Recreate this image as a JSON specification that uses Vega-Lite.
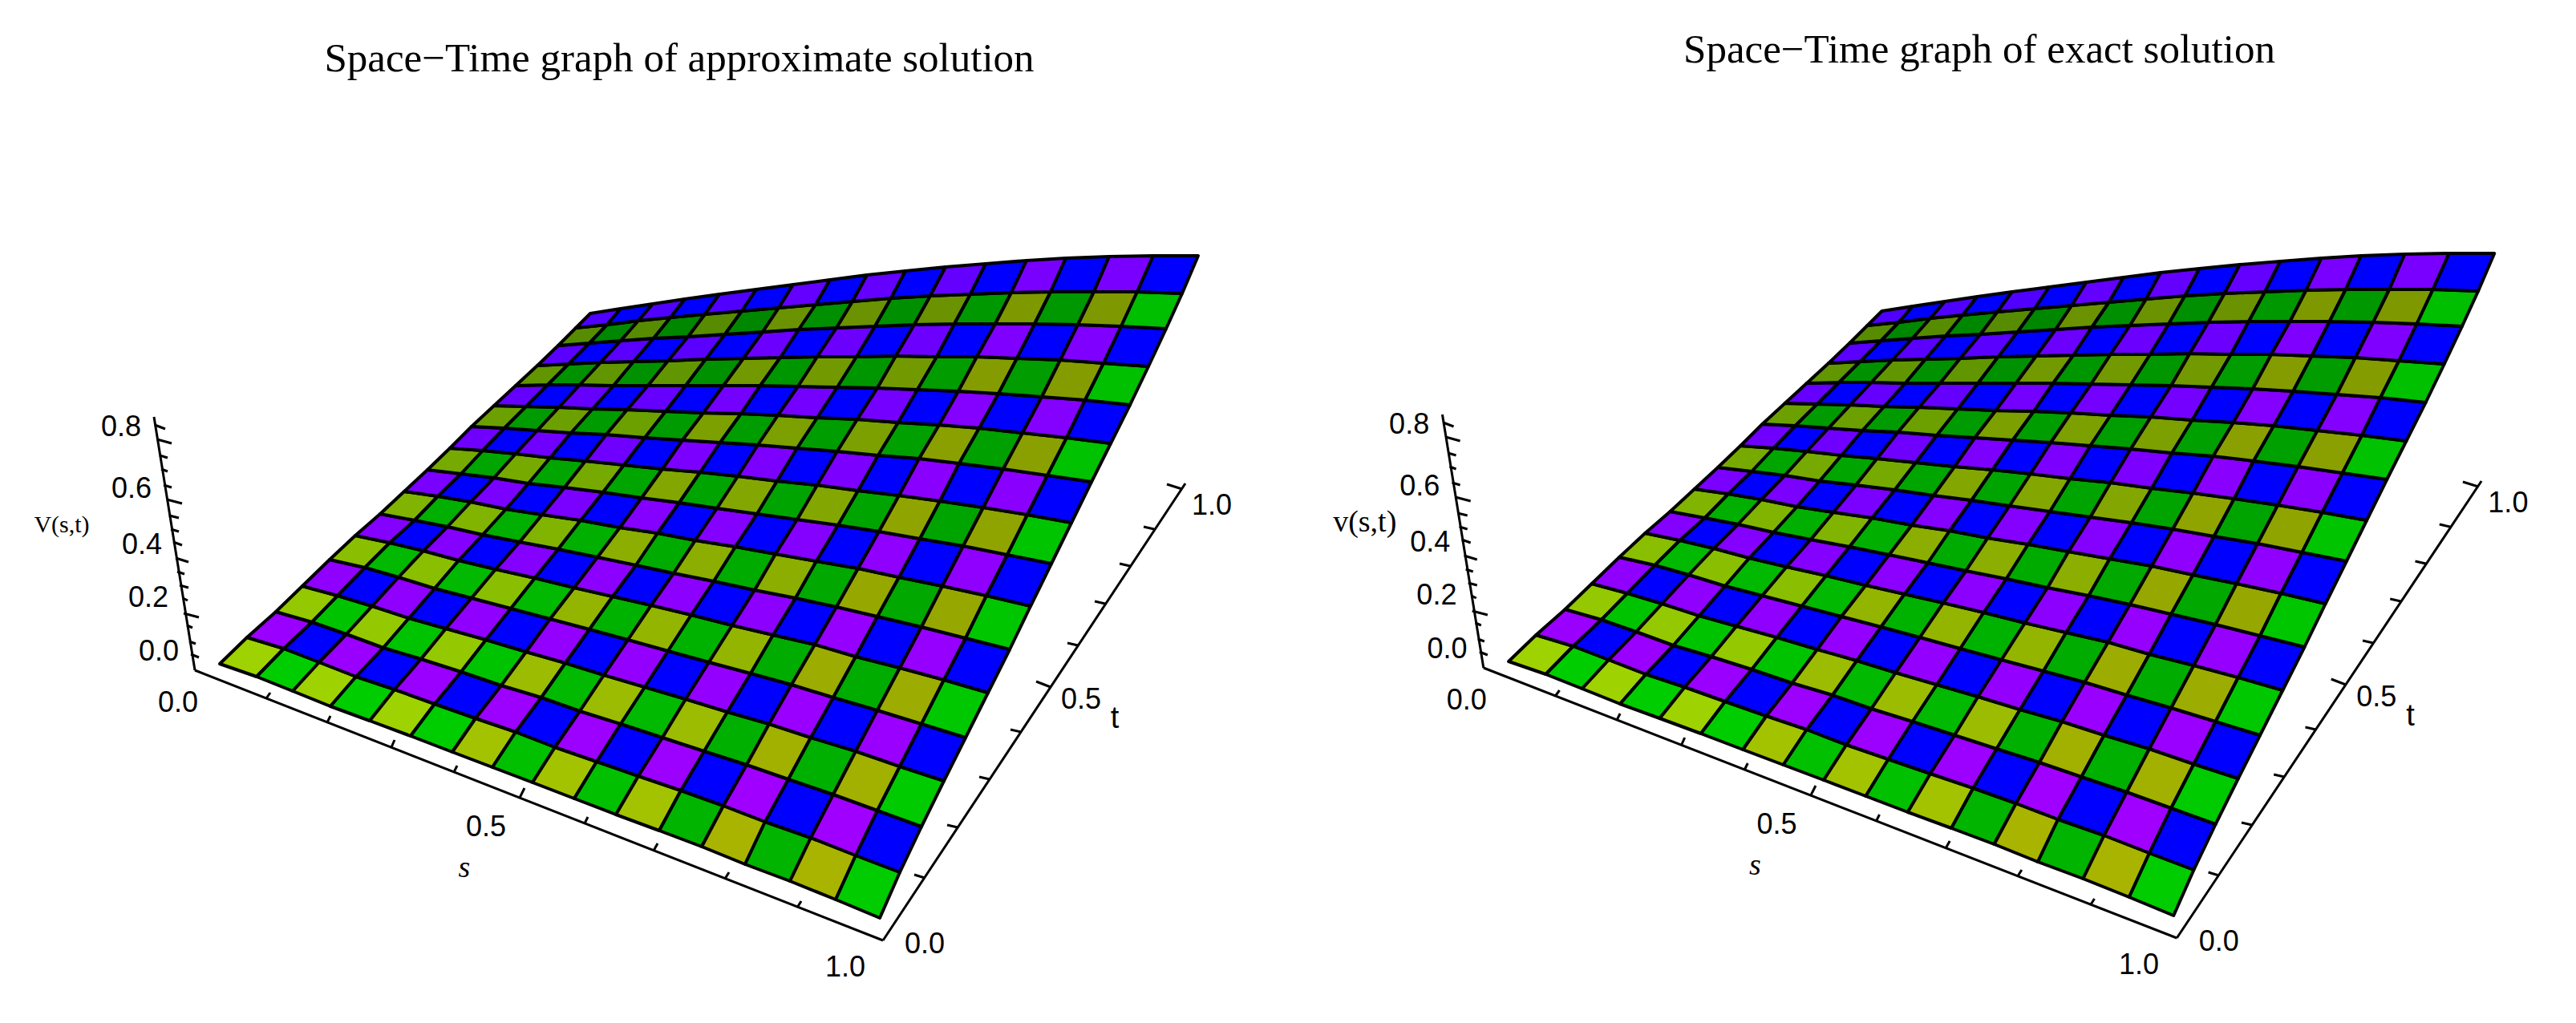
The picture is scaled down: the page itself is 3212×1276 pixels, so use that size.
{"$schema":"https://vega.github.io/schema/vega-lite/v6.json","padding":0,"spacing":0,"background":"white","config":{"view":{"stroke":null}},
"datasets":{
"verts":[
{"v":0,"x":274,"y":828},{"v":1,"x":320,"y":844},{"v":2,"x":365,"y":862},{"v":3,"x":412,"y":881},{"v":4,"x":461,"y":899},{"v":5,"x":512,"y":918},{"v":6,"x":564,"y":938},{"v":7,"x":614,"y":957},{"v":8,"x":664,"y":976},{"v":9,"x":716,"y":996},{"v":10,"x":768,"y":1016},{"v":11,"x":822,"y":1036},{"v":12,"x":875,"y":1056},{"v":13,"x":929,"y":1078},{"v":14,"x":985,"y":1099},{"v":15,"x":1042,"y":1122},{"v":16,"x":1097,"y":1145},
{"v":17,"x":308,"y":795},{"v":18,"x":354,"y":809},{"v":19,"x":398,"y":826},{"v":20,"x":444,"y":844},{"v":21,"x":492,"y":860},{"v":22,"x":542,"y":878},{"v":23,"x":593,"y":896},{"v":24,"x":643,"y":913},{"v":25,"x":692,"y":932},{"v":26,"x":744,"y":950},{"v":27,"x":796,"y":968},{"v":28,"x":849,"y":986},{"v":29,"x":902,"y":1005},{"v":30,"x":954,"y":1025},{"v":31,"x":1011,"y":1045},{"v":32,"x":1067,"y":1067},{"v":33,"x":1122,"y":1088},
{"v":34,"x":344,"y":763},{"v":35,"x":389,"y":776},{"v":36,"x":432,"y":791},{"v":37,"x":478,"y":808},{"v":38,"x":525,"y":822},{"v":39,"x":575,"y":838},{"v":40,"x":625,"y":855},{"v":41,"x":675,"y":870},{"v":42,"x":723,"y":887},{"v":43,"x":774,"y":903},{"v":44,"x":826,"y":920},{"v":45,"x":878,"y":937},{"v":46,"x":931,"y":954},{"v":47,"x":983,"y":972},{"v":48,"x":1039,"y":991},{"v":49,"x":1094,"y":1011},{"v":50,"x":1149,"y":1031},
{"v":51,"x":377,"y":731},{"v":52,"x":421,"y":743},{"v":53,"x":464,"y":756},{"v":54,"x":510,"y":771},{"v":55,"x":556,"y":784},{"v":56,"x":606,"y":798},{"v":57,"x":656,"y":813},{"v":58,"x":705,"y":827},{"v":59,"x":753,"y":842},{"v":60,"x":804,"y":857},{"v":61,"x":855,"y":872},{"v":62,"x":907,"y":888},{"v":63,"x":959,"y":903},{"v":64,"x":1011,"y":920},{"v":65,"x":1067,"y":937},{"v":66,"x":1122,"y":956},{"v":67,"x":1177,"y":974},
{"v":68,"x":411,"y":698},{"v":69,"x":455,"y":708},{"v":70,"x":497,"y":720},{"v":71,"x":542,"y":734},{"v":72,"x":588,"y":746},{"v":73,"x":637,"y":759},{"v":74,"x":686,"y":772},{"v":75,"x":735,"y":785},{"v":76,"x":783,"y":798},{"v":77,"x":833,"y":812},{"v":78,"x":884,"y":826},{"v":79,"x":936,"y":840},{"v":80,"x":987,"y":854},{"v":81,"x":1039,"y":870},{"v":82,"x":1094,"y":886},{"v":83,"x":1149,"y":903},{"v":84,"x":1204,"y":920},
{"v":85,"x":443,"y":668},{"v":86,"x":486,"y":677},{"v":87,"x":528,"y":687},{"v":88,"x":572,"y":699},{"v":89,"x":618,"y":710},{"v":90,"x":667,"y":721},{"v":91,"x":716,"y":733},{"v":92,"x":764,"y":744},{"v":93,"x":812,"y":755},{"v":94,"x":862,"y":767},{"v":95,"x":913,"y":780},{"v":96,"x":964,"y":792},{"v":97,"x":1016,"y":804},{"v":98,"x":1067,"y":819},{"v":99,"x":1122,"y":833},{"v":100,"x":1177,"y":848},{"v":101,"x":1232,"y":864},
{"v":102,"x":474,"y":641},{"v":103,"x":517,"y":649},{"v":104,"x":558,"y":657},{"v":105,"x":602,"y":667},{"v":106,"x":648,"y":676},{"v":107,"x":696,"y":685},{"v":108,"x":745,"y":695},{"v":109,"x":793,"y":705},{"v":110,"x":840,"y":715},{"v":111,"x":890,"y":725},{"v":112,"x":941,"y":736},{"v":113,"x":992,"y":746},{"v":114,"x":1043,"y":757},{"v":115,"x":1094,"y":769},{"v":116,"x":1149,"y":782},{"v":117,"x":1204,"y":796},{"v":118,"x":1259,"y":810},
{"v":119,"x":504,"y":613},{"v":120,"x":546,"y":619},{"v":121,"x":587,"y":626},{"v":122,"x":631,"y":635},{"v":123,"x":676,"y":642},{"v":124,"x":724,"y":649},{"v":125,"x":773,"y":658},{"v":126,"x":820,"y":665},{"v":127,"x":867,"y":674},{"v":128,"x":917,"y":682},{"v":129,"x":967,"y":691},{"v":130,"x":1018,"y":700},{"v":131,"x":1070,"y":709},{"v":132,"x":1121,"y":720},{"v":133,"x":1175,"y":731},{"v":134,"x":1230,"y":743},{"v":135,"x":1285,"y":756},
{"v":136,"x":533,"y":586},{"v":137,"x":575,"y":591},{"v":138,"x":616,"y":596},{"v":139,"x":659,"y":603},{"v":140,"x":704,"y":608},{"v":141,"x":752,"y":614},{"v":142,"x":800,"y":621},{"v":143,"x":847,"y":627},{"v":144,"x":894,"y":634},{"v":145,"x":944,"y":641},{"v":146,"x":994,"y":648},{"v":147,"x":1045,"y":655},{"v":148,"x":1096,"y":663},{"v":149,"x":1147,"y":672},{"v":150,"x":1201,"y":681},{"v":151,"x":1256,"y":692},{"v":152,"x":1311,"y":703},
{"v":153,"x":561,"y":559},{"v":154,"x":602,"y":562},{"v":155,"x":643,"y":566},{"v":156,"x":686,"y":571},{"v":157,"x":730,"y":575},{"v":158,"x":778,"y":580},{"v":159,"x":826,"y":585},{"v":160,"x":873,"y":589},{"v":161,"x":920,"y":594},{"v":162,"x":969,"y":600},{"v":163,"x":1019,"y":605},{"v":164,"x":1070,"y":612},{"v":165,"x":1121,"y":618},{"v":166,"x":1172,"y":625},{"v":167,"x":1226,"y":633},{"v":168,"x":1281,"y":642},{"v":169,"x":1336,"y":652},
{"v":170,"x":588,"y":532},{"v":171,"x":629,"y":534},{"v":172,"x":670,"y":537},{"v":173,"x":712,"y":540},{"v":174,"x":756,"y":542},{"v":175,"x":804,"y":546},{"v":176,"x":851,"y":549},{"v":177,"x":898,"y":552},{"v":178,"x":945,"y":555},{"v":179,"x":994,"y":559},{"v":180,"x":1044,"y":563},{"v":181,"x":1095,"y":568},{"v":182,"x":1146,"y":572},{"v":183,"x":1196,"y":578},{"v":184,"x":1251,"y":585},{"v":185,"x":1306,"y":593},{"v":186,"x":1361,"y":601},
{"v":187,"x":616,"y":506},{"v":188,"x":656,"y":507},{"v":189,"x":697,"y":508},{"v":190,"x":739,"y":510},{"v":191,"x":782,"y":511},{"v":192,"x":830,"y":513},{"v":193,"x":877,"y":515},{"v":194,"x":924,"y":516},{"v":195,"x":970,"y":518},{"v":196,"x":1019,"y":521},{"v":197,"x":1069,"y":523},{"v":198,"x":1120,"y":527},{"v":199,"x":1171,"y":530},{"v":200,"x":1221,"y":534},{"v":201,"x":1275,"y":540},{"v":202,"x":1330,"y":546},{"v":203,"x":1385,"y":553},
{"v":204,"x":643,"y":481},{"v":205,"x":683,"y":480},{"v":206,"x":723,"y":480},{"v":207,"x":765,"y":481},{"v":208,"x":808,"y":481},{"v":209,"x":855,"y":481},{"v":210,"x":902,"y":481},{"v":211,"x":948,"y":481},{"v":212,"x":995,"y":482},{"v":213,"x":1044,"y":483},{"v":214,"x":1094,"y":484},{"v":215,"x":1144,"y":486},{"v":216,"x":1195,"y":488},{"v":217,"x":1245,"y":491},{"v":218,"x":1299,"y":495},{"v":219,"x":1353,"y":499},{"v":220,"x":1409,"y":505},
{"v":221,"x":670,"y":456},{"v":222,"x":709,"y":454},{"v":223,"x":749,"y":452},{"v":224,"x":790,"y":451},{"v":225,"x":833,"y":450},{"v":226,"x":880,"y":448},{"v":227,"x":927,"y":447},{"v":228,"x":973,"y":446},{"v":229,"x":1019,"y":445},{"v":230,"x":1068,"y":445},{"v":231,"x":1117,"y":444},{"v":232,"x":1168,"y":445},{"v":233,"x":1218,"y":445},{"v":234,"x":1268,"y":447},{"v":235,"x":1322,"y":449},{"v":236,"x":1376,"y":453},{"v":237,"x":1432,"y":457},
{"v":238,"x":696,"y":431},{"v":239,"x":735,"y":428},{"v":240,"x":774,"y":425},{"v":241,"x":815,"y":422},{"v":242,"x":858,"y":420},{"v":243,"x":904,"y":417},{"v":244,"x":951,"y":414},{"v":245,"x":996,"y":411},{"v":246,"x":1043,"y":409},{"v":247,"x":1091,"y":407},{"v":248,"x":1140,"y":405},{"v":249,"x":1190,"y":404},{"v":250,"x":1241,"y":404},{"v":251,"x":1290,"y":404},{"v":252,"x":1344,"y":405},{"v":253,"x":1398,"y":407},{"v":254,"x":1454,"y":410},
{"v":255,"x":718,"y":409},{"v":256,"x":757,"y":405},{"v":257,"x":796,"y":400},{"v":258,"x":836,"y":396},{"v":259,"x":879,"y":392},{"v":260,"x":925,"y":388},{"v":261,"x":971,"y":384},{"v":262,"x":1017,"y":380},{"v":263,"x":1063,"y":376},{"v":264,"x":1111,"y":372},{"v":265,"x":1160,"y":369},{"v":266,"x":1210,"y":367},{"v":267,"x":1261,"y":365},{"v":268,"x":1310,"y":364},{"v":269,"x":1364,"y":364},{"v":270,"x":1418,"y":364},{"v":271,"x":1474,"y":366},
{"v":272,"x":736,"y":391},{"v":273,"x":774,"y":385},{"v":274,"x":814,"y":379},{"v":275,"x":854,"y":373},{"v":276,"x":897,"y":367},{"v":277,"x":943,"y":361},{"v":278,"x":989,"y":355},{"v":279,"x":1035,"y":349},{"v":280,"x":1081,"y":343},{"v":281,"x":1129,"y":338},{"v":282,"x":1179,"y":333},{"v":283,"x":1229,"y":329},{"v":284,"x":1280,"y":325},{"v":285,"x":1329,"y":322},{"v":286,"x":1383,"y":320},{"v":287,"x":1438,"y":319},{"v":288,"x":1494,"y":319}
],
"cells":[
{"c":0,"k":"L0a","v":[0,1,18,17]},{"c":1,"k":"G0a","v":[1,2,19,18]},{"c":2,"k":"L0a","v":[2,3,20,19]},{"c":3,"k":"G0a","v":[3,4,21,20]},{"c":4,"k":"L0a","v":[4,5,22,21]},{"c":5,"k":"G0a","v":[5,6,23,22]},{"c":6,"k":"L0b","v":[6,7,24,23]},{"c":7,"k":"G0b","v":[7,8,25,24]},{"c":8,"k":"L0b","v":[8,9,26,25]},{"c":9,"k":"G0b","v":[9,10,27,26]},{"c":10,"k":"L0b","v":[10,11,28,27]},{"c":11,"k":"G0c","v":[11,12,29,28]},{"c":12,"k":"L0c","v":[12,13,30,29]},{"c":13,"k":"G0c","v":[13,14,31,30]},{"c":14,"k":"L0c","v":[14,15,32,31]},{"c":15,"k":"E0","v":[15,16,33,32]},
{"c":16,"k":"P0a","v":[17,18,35,34]},{"c":17,"k":"B","v":[18,19,36,35]},{"c":18,"k":"P0a","v":[19,20,37,36]},{"c":19,"k":"B","v":[20,21,38,37]},{"c":20,"k":"P0a","v":[21,22,39,38]},{"c":21,"k":"B","v":[22,23,40,39]},{"c":22,"k":"P0b","v":[23,24,41,40]},{"c":23,"k":"B","v":[24,25,42,41]},{"c":24,"k":"P0b","v":[25,26,43,42]},{"c":25,"k":"B","v":[26,27,44,43]},{"c":26,"k":"P0b","v":[27,28,45,44]},{"c":27,"k":"B","v":[28,29,46,45]},{"c":28,"k":"P0c","v":[29,30,47,46]},{"c":29,"k":"B","v":[30,31,48,47]},{"c":30,"k":"P0c","v":[31,32,49,48]},{"c":31,"k":"B","v":[32,33,50,49]},
{"c":32,"k":"L1a","v":[34,35,52,51]},{"c":33,"k":"G1a","v":[35,36,53,52]},{"c":34,"k":"L1a","v":[36,37,54,53]},{"c":35,"k":"G1a","v":[37,38,55,54]},{"c":36,"k":"L1a","v":[38,39,56,55]},{"c":37,"k":"G1a","v":[39,40,57,56]},{"c":38,"k":"L1b","v":[40,41,58,57]},{"c":39,"k":"G1b","v":[41,42,59,58]},{"c":40,"k":"L1b","v":[42,43,60,59]},{"c":41,"k":"G1b","v":[43,44,61,60]},{"c":42,"k":"L1b","v":[44,45,62,61]},{"c":43,"k":"G1c","v":[45,46,63,62]},{"c":44,"k":"L1c","v":[46,47,64,63]},{"c":45,"k":"G1c","v":[47,48,65,64]},{"c":46,"k":"L1c","v":[48,49,66,65]},{"c":47,"k":"E1","v":[49,50,67,66]},
{"c":48,"k":"P1a","v":[51,52,69,68]},{"c":49,"k":"B","v":[52,53,70,69]},{"c":50,"k":"P1a","v":[53,54,71,70]},{"c":51,"k":"B","v":[54,55,72,71]},{"c":52,"k":"P1a","v":[55,56,73,72]},{"c":53,"k":"B","v":[56,57,74,73]},{"c":54,"k":"P1b","v":[57,58,75,74]},{"c":55,"k":"B","v":[58,59,76,75]},{"c":56,"k":"P1b","v":[59,60,77,76]},{"c":57,"k":"B","v":[60,61,78,77]},{"c":58,"k":"P1b","v":[61,62,79,78]},{"c":59,"k":"B","v":[62,63,80,79]},{"c":60,"k":"P1c","v":[63,64,81,80]},{"c":61,"k":"B","v":[64,65,82,81]},{"c":62,"k":"P1c","v":[65,66,83,82]},{"c":63,"k":"B","v":[66,67,84,83]},
{"c":64,"k":"L2a","v":[68,69,86,85]},{"c":65,"k":"G2a","v":[69,70,87,86]},{"c":66,"k":"L2a","v":[70,71,88,87]},{"c":67,"k":"G2a","v":[71,72,89,88]},{"c":68,"k":"L2a","v":[72,73,90,89]},{"c":69,"k":"G2a","v":[73,74,91,90]},{"c":70,"k":"L2b","v":[74,75,92,91]},{"c":71,"k":"G2b","v":[75,76,93,92]},{"c":72,"k":"L2b","v":[76,77,94,93]},{"c":73,"k":"G2b","v":[77,78,95,94]},{"c":74,"k":"L2b","v":[78,79,96,95]},{"c":75,"k":"G2c","v":[79,80,97,96]},{"c":76,"k":"L2c","v":[80,81,98,97]},{"c":77,"k":"G2c","v":[81,82,99,98]},{"c":78,"k":"L2c","v":[82,83,100,99]},{"c":79,"k":"E2","v":[83,84,101,100]},
{"c":80,"k":"P2a","v":[85,86,103,102]},{"c":81,"k":"B","v":[86,87,104,103]},{"c":82,"k":"P2a","v":[87,88,105,104]},{"c":83,"k":"B","v":[88,89,106,105]},{"c":84,"k":"P2a","v":[89,90,107,106]},{"c":85,"k":"B","v":[90,91,108,107]},{"c":86,"k":"P2b","v":[91,92,109,108]},{"c":87,"k":"B","v":[92,93,110,109]},{"c":88,"k":"P2b","v":[93,94,111,110]},{"c":89,"k":"B","v":[94,95,112,111]},{"c":90,"k":"P2b","v":[95,96,113,112]},{"c":91,"k":"B","v":[96,97,114,113]},{"c":92,"k":"P2c","v":[97,98,115,114]},{"c":93,"k":"B","v":[98,99,116,115]},{"c":94,"k":"P2c","v":[99,100,117,116]},{"c":95,"k":"B","v":[100,101,118,117]},
{"c":96,"k":"L3a","v":[102,103,120,119]},{"c":97,"k":"G3a","v":[103,104,121,120]},{"c":98,"k":"L3a","v":[104,105,122,121]},{"c":99,"k":"G3a","v":[105,106,123,122]},{"c":100,"k":"L3a","v":[106,107,124,123]},{"c":101,"k":"G3a","v":[107,108,125,124]},{"c":102,"k":"L3b","v":[108,109,126,125]},{"c":103,"k":"G3b","v":[109,110,127,126]},{"c":104,"k":"L3b","v":[110,111,128,127]},{"c":105,"k":"G3b","v":[111,112,129,128]},{"c":106,"k":"L3b","v":[112,113,130,129]},{"c":107,"k":"G3c","v":[113,114,131,130]},{"c":108,"k":"L3c","v":[114,115,132,131]},{"c":109,"k":"G3c","v":[115,116,133,132]},{"c":110,"k":"L3c","v":[116,117,134,133]},{"c":111,"k":"E3","v":[117,118,135,134]},
{"c":112,"k":"P3a","v":[119,120,137,136]},{"c":113,"k":"B","v":[120,121,138,137]},{"c":114,"k":"P3a","v":[121,122,139,138]},{"c":115,"k":"B","v":[122,123,140,139]},{"c":116,"k":"P3a","v":[123,124,141,140]},{"c":117,"k":"B","v":[124,125,142,141]},{"c":118,"k":"P3b","v":[125,126,143,142]},{"c":119,"k":"B","v":[126,127,144,143]},{"c":120,"k":"P3b","v":[127,128,145,144]},{"c":121,"k":"B","v":[128,129,146,145]},{"c":122,"k":"P3b","v":[129,130,147,146]},{"c":123,"k":"B","v":[130,131,148,147]},{"c":124,"k":"P3c","v":[131,132,149,148]},{"c":125,"k":"B","v":[132,133,150,149]},{"c":126,"k":"P3c","v":[133,134,151,150]},{"c":127,"k":"B","v":[134,135,152,151]},
{"c":128,"k":"L4a","v":[136,137,154,153]},{"c":129,"k":"G4a","v":[137,138,155,154]},{"c":130,"k":"L4a","v":[138,139,156,155]},{"c":131,"k":"G4a","v":[139,140,157,156]},{"c":132,"k":"L4a","v":[140,141,158,157]},{"c":133,"k":"G4a","v":[141,142,159,158]},{"c":134,"k":"L4b","v":[142,143,160,159]},{"c":135,"k":"G4b","v":[143,144,161,160]},{"c":136,"k":"L4b","v":[144,145,162,161]},{"c":137,"k":"G4b","v":[145,146,163,162]},{"c":138,"k":"L4b","v":[146,147,164,163]},{"c":139,"k":"G4c","v":[147,148,165,164]},{"c":140,"k":"L4c","v":[148,149,166,165]},{"c":141,"k":"G4c","v":[149,150,167,166]},{"c":142,"k":"L4c","v":[150,151,168,167]},{"c":143,"k":"E4","v":[151,152,169,168]},
{"c":144,"k":"P4a","v":[153,154,171,170]},{"c":145,"k":"B","v":[154,155,172,171]},{"c":146,"k":"P4a","v":[155,156,173,172]},{"c":147,"k":"B","v":[156,157,174,173]},{"c":148,"k":"P4a","v":[157,158,175,174]},{"c":149,"k":"B","v":[158,159,176,175]},{"c":150,"k":"P4b","v":[159,160,177,176]},{"c":151,"k":"B","v":[160,161,178,177]},{"c":152,"k":"P4b","v":[161,162,179,178]},{"c":153,"k":"B","v":[162,163,180,179]},{"c":154,"k":"P4b","v":[163,164,181,180]},{"c":155,"k":"B","v":[164,165,182,181]},{"c":156,"k":"P4c","v":[165,166,183,182]},{"c":157,"k":"B","v":[166,167,184,183]},{"c":158,"k":"P4c","v":[167,168,185,184]},{"c":159,"k":"B","v":[168,169,186,185]},
{"c":160,"k":"L5a","v":[170,171,188,187]},{"c":161,"k":"G5a","v":[171,172,189,188]},{"c":162,"k":"L5a","v":[172,173,190,189]},{"c":163,"k":"G5a","v":[173,174,191,190]},{"c":164,"k":"L5a","v":[174,175,192,191]},{"c":165,"k":"G5a","v":[175,176,193,192]},{"c":166,"k":"L5b","v":[176,177,194,193]},{"c":167,"k":"G5b","v":[177,178,195,194]},{"c":168,"k":"L5b","v":[178,179,196,195]},{"c":169,"k":"G5b","v":[179,180,197,196]},{"c":170,"k":"L5b","v":[180,181,198,197]},{"c":171,"k":"G5c","v":[181,182,199,198]},{"c":172,"k":"L5c","v":[182,183,200,199]},{"c":173,"k":"G5c","v":[183,184,201,200]},{"c":174,"k":"L5c","v":[184,185,202,201]},{"c":175,"k":"E5","v":[185,186,203,202]},
{"c":176,"k":"P5a","v":[187,188,205,204]},{"c":177,"k":"B","v":[188,189,206,205]},{"c":178,"k":"P5a","v":[189,190,207,206]},{"c":179,"k":"B","v":[190,191,208,207]},{"c":180,"k":"P5a","v":[191,192,209,208]},{"c":181,"k":"B","v":[192,193,210,209]},{"c":182,"k":"P5b","v":[193,194,211,210]},{"c":183,"k":"B","v":[194,195,212,211]},{"c":184,"k":"P5b","v":[195,196,213,212]},{"c":185,"k":"B","v":[196,197,214,213]},{"c":186,"k":"P5b","v":[197,198,215,214]},{"c":187,"k":"B","v":[198,199,216,215]},{"c":188,"k":"P5c","v":[199,200,217,216]},{"c":189,"k":"B","v":[200,201,218,217]},{"c":190,"k":"P5c","v":[201,202,219,218]},{"c":191,"k":"B","v":[202,203,220,219]},
{"c":192,"k":"L6a","v":[204,205,222,221]},{"c":193,"k":"G6a","v":[205,206,223,222]},{"c":194,"k":"L6a","v":[206,207,224,223]},{"c":195,"k":"G6a","v":[207,208,225,224]},{"c":196,"k":"L6a","v":[208,209,226,225]},{"c":197,"k":"G6a","v":[209,210,227,226]},{"c":198,"k":"L6b","v":[210,211,228,227]},{"c":199,"k":"G6b","v":[211,212,229,228]},{"c":200,"k":"L6b","v":[212,213,230,229]},{"c":201,"k":"G6b","v":[213,214,231,230]},{"c":202,"k":"L6b","v":[214,215,232,231]},{"c":203,"k":"G6c","v":[215,216,233,232]},{"c":204,"k":"L6c","v":[216,217,234,233]},{"c":205,"k":"G6c","v":[217,218,235,234]},{"c":206,"k":"L6c","v":[218,219,236,235]},{"c":207,"k":"E6","v":[219,220,237,236]},
{"c":208,"k":"P6a","v":[221,222,239,238]},{"c":209,"k":"B","v":[222,223,240,239]},{"c":210,"k":"P6a","v":[223,224,241,240]},{"c":211,"k":"B","v":[224,225,242,241]},{"c":212,"k":"P6a","v":[225,226,243,242]},{"c":213,"k":"B","v":[226,227,244,243]},{"c":214,"k":"P6b","v":[227,228,245,244]},{"c":215,"k":"B","v":[228,229,246,245]},{"c":216,"k":"P6b","v":[229,230,247,246]},{"c":217,"k":"B","v":[230,231,248,247]},{"c":218,"k":"P6b","v":[231,232,249,248]},{"c":219,"k":"B","v":[232,233,250,249]},{"c":220,"k":"P6c","v":[233,234,251,250]},{"c":221,"k":"B","v":[234,235,252,251]},{"c":222,"k":"P6c","v":[235,236,253,252]},{"c":223,"k":"B","v":[236,237,254,253]},
{"c":224,"k":"L7a","v":[238,239,256,255]},{"c":225,"k":"G7a","v":[239,240,257,256]},{"c":226,"k":"L7a","v":[240,241,258,257]},{"c":227,"k":"G7a","v":[241,242,259,258]},{"c":228,"k":"L7a","v":[242,243,260,259]},{"c":229,"k":"G7a","v":[243,244,261,260]},{"c":230,"k":"L7b","v":[244,245,262,261]},{"c":231,"k":"G7b","v":[245,246,263,262]},{"c":232,"k":"L7b","v":[246,247,264,263]},{"c":233,"k":"G7b","v":[247,248,265,264]},{"c":234,"k":"L7b","v":[248,249,266,265]},{"c":235,"k":"G7c","v":[249,250,267,266]},{"c":236,"k":"L7c","v":[250,251,268,267]},{"c":237,"k":"G7c","v":[251,252,269,268]},{"c":238,"k":"L7c","v":[252,253,270,269]},{"c":239,"k":"E7","v":[253,254,271,270]},
{"c":240,"k":"P7a","v":[255,256,273,272]},{"c":241,"k":"B","v":[256,257,274,273]},{"c":242,"k":"P7a","v":[257,258,275,274]},{"c":243,"k":"B","v":[258,259,276,275]},{"c":244,"k":"P7a","v":[259,260,277,276]},{"c":245,"k":"B","v":[260,261,278,277]},{"c":246,"k":"P7b","v":[261,262,279,278]},{"c":247,"k":"B","v":[262,263,280,279]},{"c":248,"k":"P7b","v":[263,264,281,280]},{"c":249,"k":"B","v":[264,265,282,281]},{"c":250,"k":"P7b","v":[265,266,283,282]},{"c":251,"k":"B","v":[266,267,284,283]},{"c":252,"k":"P7c","v":[267,268,285,284]},{"c":253,"k":"B","v":[268,269,286,285]},{"c":254,"k":"P7c","v":[269,270,287,286]},{"c":255,"k":"B","v":[270,271,288,287]}
],
"axes":[
{"g":0,"x":[243,1101],"y":[836,1173]},{"g":1,"x":[1101,1478],"y":[1173,603]},{"g":2,"x":[243,192],"y":[836,520]},
{"g":3,"x":[193,206],"y":[530,535]},{"g":4,"x":[196,214],"y":[548,553]},{"g":5,"x":[199,209],"y":[568,571]},{"g":6,"x":[201,209],"y":[585,588]},{"g":7,"x":[204,214],"y":[605,608]},{"g":8,"x":[208,227],"y":[623,628]},{"g":9,"x":[211,223],"y":[643,646]},{"g":10,"x":[213,223],"y":[660,663]},{"g":11,"x":[216,227],"y":[676,680]},{"g":12,"x":[219,235],"y":[696,701]},{"g":13,"x":[221,230],"y":[713,716]},{"g":14,"x":[224,235],"y":[730,733]},{"g":15,"x":[228,234],"y":[746,749]},{"g":16,"x":[229,248],"y":[765,770]},{"g":17,"x":[233,240],"y":[780,783]},{"g":18,"x":[236,244],"y":[800,803]},{"g":19,"x":[238,248],"y":[816,820]},
{"g":20,"x":[332,337],"y":[871,864]},{"g":21,"x":[408,412],"y":[901,893]},{"g":22,"x":[488,492],"y":[932,923]},{"g":23,"x":[566,570],"y":[963,955]},{"g":24,"x":[648,654],"y":[995,983]},{"g":25,"x":[729,733],"y":[1027,1019]},{"g":26,"x":[815,820],"y":[1061,1052]},{"g":27,"x":[904,909],"y":[1096,1088]},{"g":28,"x":[994,999],"y":[1132,1124]},
{"g":29,"x":[1153,1140],"y":[1095,1091]},{"g":30,"x":[1194,1181],"y":[1032,1029]},{"g":31,"x":[1234,1221],"y":[972,969]},{"g":32,"x":[1273,1260],"y":[913,910]},{"g":33,"x":[1310,1292],"y":[857,850]},{"g":34,"x":[1344,1331],"y":[805,802]},{"g":35,"x":[1378,1365],"y":[753,750]},{"g":36,"x":[1409,1396],"y":[706,703]},{"g":37,"x":[1439,1426],"y":[660,657]},{"g":38,"x":[1474,1455],"y":[610,604]}
],
"ticklabels":[
{"t":"0.8","x":151,"y":533},{"t":"0.6","x":164,"y":610},{"t":"0.4","x":177,"y":680},{"t":"0.2","x":185,"y":746},{"t":"0.0","x":198,"y":813},
{"t":"0.0","x":222,"y":877},{"t":"0.5","x":606,"y":1032},{"t":"1.0","x":1054,"y":1207},
{"t":"0.0","x":1153,"y":1178},{"t":"0.5","x":1348,"y":873},{"t":"1.0","x":1511,"y":631}
]},
"hconcat":[
{"width":1606,"height":1276,
"title":{"text":"Space−Time graph of approximate solution","anchor":"middle","offset":-100,"dx":44,"font":"Liberation Serif","fontSize":51,"fontWeight":"normal","color":"black"},
"layer":[
{"data":{"name":"cells"},"transform":[{"flatten":["v"]},{"lookup":"v","from":{"data":{"name":"verts"},"key":"v","fields":["x","y"]}},{"window":[{"op":"row_number","as":"o"}]}],
"mark":{"type":"line","interpolate":"linear-closed","stroke":"black","strokeWidth":4,"strokeJoin":"round"},
"encoding":{"x":{"field":"x","type":"quantitative","axis":null,"scale":{"domain":[0,1606],"nice":false,"zero":false}},"y":{"field":"y","type":"quantitative","axis":null,"scale":{"domain":[1276,0],"nice":false,"zero":false}},"detail":{"field":"c"},"order":{"field":"o","type":"quantitative"},
"fill":{"field":"k","type":"nominal","legend":null,"scale":{"range":["#0000FF","#00CC00","#00CA00","#00C800","#00C600","#00C400","#00C200","#00C000","#00BE00","#00CD00","#00C000","#00B400","#00C300","#00B900","#00B000","#00B900","#00B200","#00AC00","#00AF00","#00AB00","#00A800","#00A500","#00A400","#00A400","#009B00","#009D00","#00A000","#009100","#009600","#009C00","#008700","#008F00","#009800","#9ED200","#A3C300","#A8B400","#94C800","#9BBC00","#A2B000","#8ABE00","#93B500","#9CAC00","#80B400","#8BAE00","#96A800","#76AA00","#83A700","#90A400","#6CA000","#7BA000","#8AA000","#629600","#739900","#849C00","#588C00","#6B9200","#7E9800","#9900FF","#9C00FF","#A000FF","#8F00FF","#9400FF","#9A00FF","#8400FF","#8C00FF","#9500FF","#7A00FF","#8400FF","#8F00FF","#6F00FF","#7C00FF","#8A00FF","#6500FF","#7400FF","#8400FF","#5A00FF","#6C00FF","#7F00FF","#5000FF","#6400FF","#7900FF"]}}}},
{"data":{"name":"axes"},"transform":[{"flatten":["x","y"]}],"mark":{"type":"line","stroke":"black","strokeWidth":3},
"encoding":{"x":{"field":"x","type":"quantitative"},"y":{"field":"y","type":"quantitative"},"detail":{"field":"g"},"order":null}},
{"data":{"name":"ticklabels"},"mark":{"type":"text","font":"Liberation Sans","fontSize":36,"align":"center","baseline":"middle","color":"black"},
"encoding":{"x":{"field":"x","type":"quantitative"},"y":{"field":"y","type":"quantitative"},"text":{"field":"t"}}},
{"data":{"values":[{"t":"V(s,t)","x":77,"y":655}]},"mark":{"type":"text","font":"Liberation Serif","fontSize":30,"align":"center","baseline":"middle","color":"black"},
"encoding":{"x":{"field":"x","type":"quantitative"},"y":{"field":"y","type":"quantitative"},"text":{"field":"t"}}},
{"data":{"values":[{"t":"t","x":1390,"y":897}]},"mark":{"type":"text","font":"Liberation Sans","fontSize":38,"align":"center","baseline":"middle","color":"black"},
"encoding":{"x":{"field":"x","type":"quantitative"},"y":{"field":"y","type":"quantitative"},"text":{"field":"t"}}},
{"data":{"values":[{"t":"s","x":579,"y":1083}]},"mark":{"type":"text","font":"Liberation Serif","fontStyle":"italic","fontSize":38,"align":"center","baseline":"middle","color":"black"},
"encoding":{"x":{"field":"x","type":"quantitative"},"y":{"field":"y","type":"quantitative"},"text":{"field":"t"}}}
]},
{"width":1606,"height":1276,
"title":{"text":"Space−Time graph of exact solution","anchor":"middle","offset":-89,"dx":59,"font":"Liberation Serif","fontSize":51,"fontWeight":"normal","color":"black"},
"layer":[
{"data":{"name":"cells"},"transform":[{"flatten":["v"]},{"lookup":"v","from":{"data":{"name":"verts"},"key":"v","fields":["x","y"]}},{"window":[{"op":"row_number","as":"o"}]}],
"mark":{"type":"line","interpolate":"linear-closed","stroke":"black","strokeWidth":4,"strokeJoin":"round"},
"encoding":{"x":{"field":"x","type":"quantitative","axis":null,"scale":{"domain":[1,1595],"nice":false,"zero":false}},"y":{"field":"y","type":"quantitative","axis":null,"scale":{"domain":[1279,3],"nice":false,"zero":false}},"detail":{"field":"c"},"order":{"field":"o","type":"quantitative"},
"fill":{"field":"k","type":"nominal","legend":null,"scale":{"range":["#0000FF","#00B800","#00B300","#00AE00","#00A900","#00A400","#009F00","#009A00","#009500","#00CD00","#00C000","#00B400","#00C300","#00B900","#00B000","#00B900","#00B200","#00AC00","#00AF00","#00AB00","#00A800","#00A500","#00A400","#00A400","#009B00","#009D00","#00A000","#009100","#009600","#009C00","#008700","#008F00","#009800","#9ED200","#A3C300","#A8B400","#94C800","#9BBC00","#A2B000","#8ABE00","#93B500","#9CAC00","#80B400","#8BAE00","#96A800","#76AA00","#83A700","#90A400","#6CA000","#7BA000","#8AA000","#629600","#739900","#849C00","#588C00","#6B9200","#7E9800","#9900FF","#9C00FF","#A000FF","#8F00FF","#9400FF","#9A00FF","#8400FF","#8C00FF","#9500FF","#7A00FF","#8400FF","#8F00FF","#6F00FF","#7C00FF","#8A00FF","#6500FF","#7400FF","#8400FF","#5A00FF","#6C00FF","#7F00FF","#5000FF","#6400FF","#7900FF"]}}}},
{"data":{"name":"axes"},"transform":[{"flatten":["x","y"]}],"mark":{"type":"line","stroke":"black","strokeWidth":3},
"encoding":{"x":{"field":"x","type":"quantitative"},"y":{"field":"y","type":"quantitative"},"detail":{"field":"g"},"order":null}},
{"data":{"name":"ticklabels"},"mark":{"type":"text","font":"Liberation Sans","fontSize":36,"align":"center","baseline":"middle","color":"black"},
"encoding":{"x":{"field":"x","type":"quantitative"},"y":{"field":"y","type":"quantitative"},"text":{"field":"t"}}},
{"data":{"values":[{"t":"v(s,t)","x":96,"y":655}]},"mark":{"type":"text","font":"Liberation Serif","fontSize":38,"align":"center","baseline":"middle","color":"black"},
"encoding":{"x":{"field":"x","type":"quantitative"},"y":{"field":"y","type":"quantitative"},"text":{"field":"t"}}},
{"data":{"values":[{"t":"t","x":1390,"y":897}]},"mark":{"type":"text","font":"Liberation Sans","fontSize":38,"align":"center","baseline":"middle","color":"black"},
"encoding":{"x":{"field":"x","type":"quantitative"},"y":{"field":"y","type":"quantitative"},"text":{"field":"t"}}},
{"data":{"values":[{"t":"s","x":579,"y":1083}]},"mark":{"type":"text","font":"Liberation Serif","fontStyle":"italic","fontSize":38,"align":"center","baseline":"middle","color":"black"},
"encoding":{"x":{"field":"x","type":"quantitative"},"y":{"field":"y","type":"quantitative"},"text":{"field":"t"}}}
]}
]}
